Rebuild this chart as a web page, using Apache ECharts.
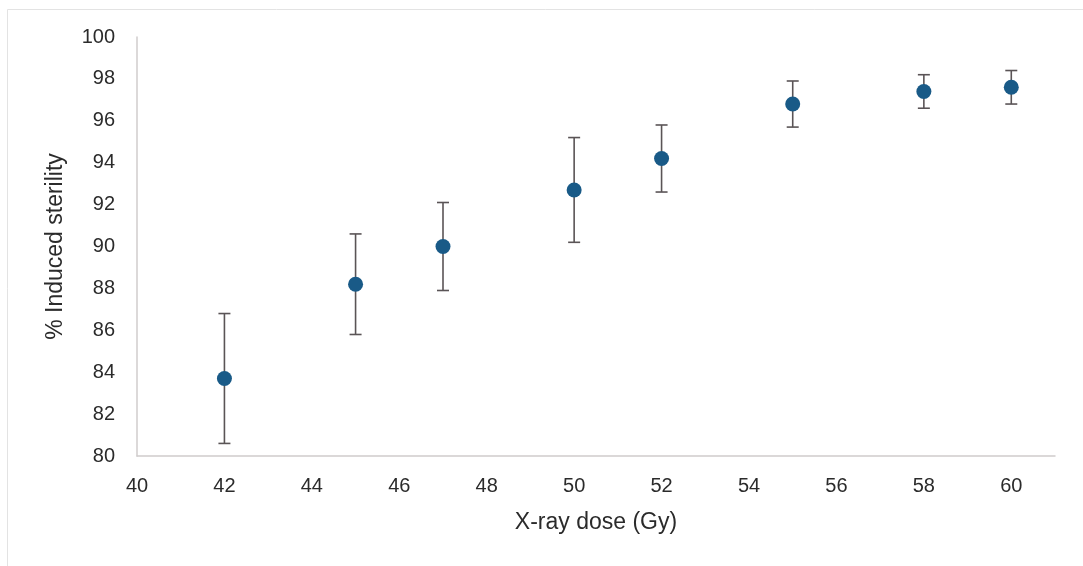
<!DOCTYPE html>
<html>
<head>
<meta charset="utf-8">
<script src="https://cdn.jsdelivr.net/npm/echarts@6/dist/echarts.min.js"></script>
<style>
  html, body { margin: 0; padding: 0; background: #fff; }
  #chart { width: 1083px; height: 566px; }
</style>
</head>
<body>
<div id="chart"></div>
<script>
// X-ray dose (Gy)
var doses = [42, 45, 47, 50, 52, 55, 58, 60];
// mean % induced sterility
var means = [83.7, 88.2, 90.0, 92.7, 94.2, 96.8, 97.4, 97.6];
// error bar ends
var lows = [80.6, 85.8, 87.9, 90.2, 92.6, 95.7, 96.6, 96.8];
var highs = [86.8, 90.6, 92.1, 95.2, 95.8, 97.9, 98.2, 98.4];

var font = '"Liberation Sans", Arial, sans-serif';
var textColor = '#2b2b2b';
var chart = echarts.init(document.getElementById('chart'));

var errData = doses.map(function (d, i) { return [d, lows[i], highs[i]]; });
var ptData = doses.map(function (d, i) { return [d, means[i]]; });

chart.setOption({
  animation: false,
  graphic: [{
    type: 'rect',
    shape: { x: 7.5, y: 9.5, width: 1090, height: 570 },
    style: { fill: 'none', stroke: '#e3e3e3', lineWidth: 1 },
    silent: true
  }],
  grid: { left: 137, right: 28, top: 37, bottom: 110 },
  xAxis: {
    type: 'value',
    min: 40, max: 61, interval: 2,
    name: 'X-ray dose (Gy)',
    nameLocation: 'middle',
    nameGap: 55,
    nameTextStyle: { fontFamily: font, fontSize: 23, color: textColor },
    axisLine: { show: true, lineStyle: { color: '#d0cccc', width: 1.5 } },
    axisTick: { show: false },
    splitLine: { show: false },
    axisLabel: { fontFamily: font, fontSize: 20, color: textColor, margin: 20, showMaxLabel: false }
  },
  yAxis: {
    type: 'value',
    min: 80, max: 100, interval: 2,
    name: '% Induced sterility',
    nameLocation: 'middle',
    nameGap: 70,
    nameTextStyle: { fontFamily: font, fontSize: 23, color: textColor },
    axisLine: { show: true, lineStyle: { color: '#d0cccc', width: 1.5 } },
    axisTick: { show: false },
    splitLine: { show: false },
    axisLabel: { fontFamily: font, fontSize: 20, color: textColor, margin: 22 }
  },
  series: [
    {
      type: 'custom',
      data: errData,
      z: 1,
      renderItem: function (params, api) {
        var x = api.value(0);
        var lo = api.coord([x, api.value(1)]);
        var hi = api.coord([x, api.value(2)]);
        var cap = 6;
        var st = { stroke: '#5a5456', lineWidth: 1.6 };
        return {
          type: 'group',
          children: [
            { type: 'line', shape: { x1: lo[0], y1: lo[1], x2: hi[0], y2: hi[1] }, style: st },
            { type: 'line', shape: { x1: lo[0] - cap, y1: lo[1], x2: lo[0] + cap, y2: lo[1] }, style: st },
            { type: 'line', shape: { x1: hi[0] - cap, y1: hi[1], x2: hi[0] + cap, y2: hi[1] }, style: st }
          ]
        };
      }
    },
    {
      type: 'scatter',
      data: ptData,
      z: 2,
      symbolSize: 15,
      itemStyle: { color: '#195a87', opacity: 1 }
    }
  ]
});
</script>
</body>
</html>
